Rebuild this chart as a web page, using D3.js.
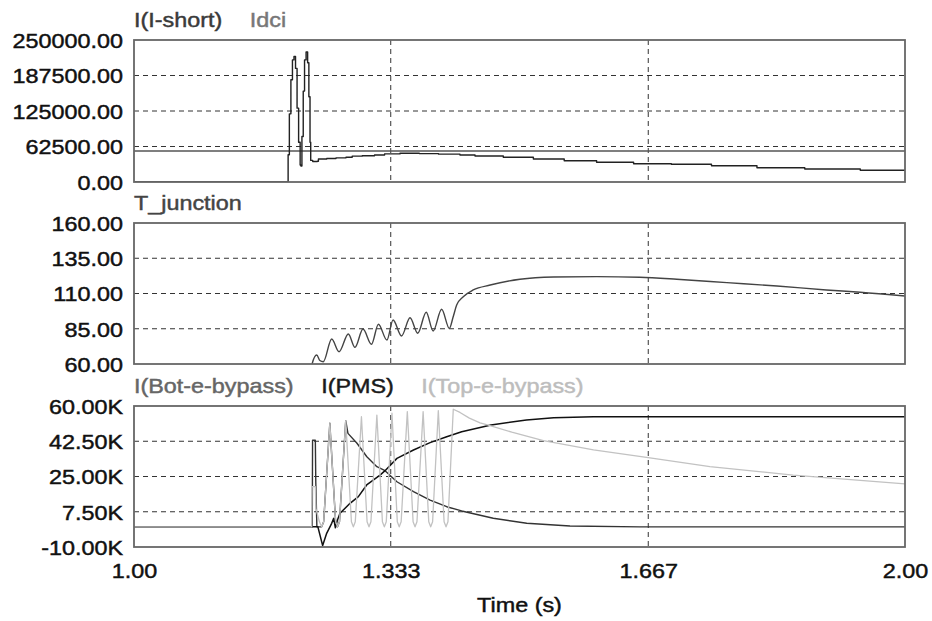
<!DOCTYPE html>
<html><head><meta charset="utf-8">
<script src="https://cdn.jsdelivr.net/npm/d3@7"></script>
<style>
html,body{margin:0;padding:0;background:#fff;}
svg{display:block;font-family:"Liberation Sans",Arial,sans-serif;}
</style></head><body>
<svg id="chart" width="932" height="621"></svg>
<script>
// ---------------- DATA ----------------
const xTickValues = [1.0, 1.333, 1.667, 2.0];
const xTickLabels = ["1.00", "1.333", "1.667", "2.00"];
const xTitle = "Time (s)";

// Panel 1
const p1TickValues = [0, 62500, 125000, 187500, 250000];
const p1TickLabels = ["0.00", "62500.00", "125000.00", "187500.00", "250000.00"];
const p1Names = ["I(I-short)", "Idci"];
const iShort = [
  [1.0,0],[1.1997,0],[1.1999,48000],[1.2015,120000],[1.2035,180000],[1.2055,215000],[1.2075,221000],
  [1.2095,200000],[1.2115,130000],[1.2135,70000],[1.2155,30000],[1.2165,28000],[1.2178,80000],
  [1.2195,160000],[1.2212,215000],[1.2232,229000],[1.2252,210000],[1.2268,150000],[1.2283,70000],
  [1.2292,38000],[1.2318,36000],[1.2378,36500],[1.2392,40500],[1.250,41500],[1.262,42500],[1.275,43500],
  [1.283,45500],[1.296,46300],[1.312,47500],[1.325,49500],[1.345,50500],[1.370,50000],[1.395,49000],
  [1.4228,47500],[1.4423,45800],[1.479,43500],[1.518,40500],[1.558,37500],[1.600,34700],[1.648,32000],
  [1.697,31200],[1.749,28700],[1.808,25200],[1.870,22900],[1.942,20600],[2.0,20600]
];
const idci = [[1.0,54500],[2.0,54500]];

// Panel 2
const p2TickValues = [60, 85, 110, 135, 160];
const p2TickLabels = ["60.00", "85.00", "110.00", "135.00", "160.00"];
const p2Names = ["T_junction"];
const tJunction = [
  [1.2290,55],[1.2310,60],[1.2370,66.4],[1.2410,62.5],[1.2455,61.6],[1.2564,77.7],[1.2660,68.7],
  [1.2780,81.3],[1.2866,71.8],[1.2970,84.8],[1.3080,74.0],[1.3170,88.2],[1.3280,77.0],[1.3360,91.2],
  [1.3470,79.9],[1.3580,92.8],[1.3680,81.8],[1.3790,96.7],[1.3880,83.4],[1.3990,98.8],[1.4090,85.3],
  [1.4140,93.5],[1.4185,101.8],[1.4270,107.7],[1.4400,112.5],[1.4620,116.0],[1.5006,120.1],[1.5440,121.7],
  [1.6000,122.0],[1.6560,121.5],[1.7040,120.1],[1.7690,117.7],[1.8340,115.3],[1.8980,112.5],
  [1.9420,110.9],[2.0,108.2]
];

// Panel 3
const p3TickValues = [-10000, 7500, 25000, 42500, 60000];
const p3TickLabels = ["-10.00K", "7.50K", "25.00K", "42.50K", "60.00K"];
const p3Names = ["I(Bot-e-bypass)", "I(PMS)", "I(Top-e-bypass)"];
const botBypass = [
  [1.0,0],[1.2312,0],[1.2316,43000],[1.2352,43000],[1.2358,22000],[1.2372,0],[1.2434,0],[1.2460,2500],
  [1.2540,51400],[1.2615,2500],[1.2640,0],[1.2665,2500],[1.2746,52700],[1.2775,46400],[1.2892,41500],
  [1.3020,34800],[1.3150,29900],[1.3256,27900],[1.3410,22400],[1.3625,17450],[1.3840,13300],
  [1.4056,10000],[1.4250,7900],[1.4575,5000],[1.4660,4250],[1.5094,1770],[1.5655,430],[1.656,0],[2.0,0]
];
const pms = [
  [1.0,0],[1.2385,0],[1.2447,-9300],[1.2499,-3200],[1.2564,1770],[1.2590,4200],[1.2612,-500],
  [1.2640,3500],[1.2672,6730],[1.2802,11700],[1.2910,15000],[1.3018,20800],[1.3191,25700],
  [1.3256,27900],[1.3410,34000],[1.3625,38150],[1.3840,41800],[1.4056,44750],[1.4250,47200],
  [1.4630,50570],[1.5090,53050],[1.5443,54200],[1.5958,54700],[2.0,54700]
];
const topBypass = [
  [1.0,0],[1.2305,0],[1.2310,20000],[1.2352,20000],[1.2360,9000],[1.2405,2500],[1.2434,0],[1.2460,2500],
  [1.2540,51400],[1.2615,2500],[1.2640,0],[1.2665,2500],
  [1.2746,52700],[1.2820,2500],[1.2845,0],[1.2870,2500],
  [1.2950,54700],[1.3023,2500],[1.3048,0],[1.3073,2500],
  [1.3150,55500],[1.3222,2500],[1.3247,0],[1.3272,2500],
  [1.3346,56400],[1.3415,2500],[1.3440,0],[1.3465,2500],
  [1.3545,57200],[1.3620,2500],[1.3645,0],[1.3670,2500],
  [1.3750,57200],[1.3823,2500],[1.3848,0],[1.3873,2500],
  [1.3947,57700],[1.4022,2500],[1.4047,0],[1.4072,2500],
  [1.4141,58400],[1.4228,56800],[1.4350,54000],[1.4488,51600],[1.4595,50500],[1.490,47000],
  [1.531,42800],[1.596,38200],[1.667,34400],[1.747,29900],[1.855,25700],[2.0,21300]
];

// ---------------- LAYOUT ----------------
const X0 = 134, X1 = 905;
const FS = 20.5, SX = 1.14, TSW = 0.45;
const svg = d3.select("#chart");
const x = d3.scaleLinear().domain([1, 2]).range([X0, X1]);

const panels = [
  { top: 40, bottom: 182, ticks: p1TickValues, labels: p1TickLabels, names: p1Names,
    nameColors: ["#3a3a3a", "#777"],
    series: [
      { data: idci, color: "#555", width: 1.5, curve: d3.curveLinear },
      { data: iShort, color: "#222", width: 1.4, curve: d3.curveStepAfter }
    ] },
  { top: 223, bottom: 364, ticks: p2TickValues, labels: p2TickLabels, names: p2Names,
    nameColors: ["#444"],
    series: [
      { data: tJunction, color: "#444", width: 1.4, curve: d3.curveMonotoneX }
    ] },
  { top: 406, bottom: 547, ticks: p3TickValues, labels: p3TickLabels, names: p3Names,
    nameColors: ["#666", "#1a1a1a", "#bdbdbd"],
    series: [
      { data: botBypass, color: "#333", width: 1.4, curve: d3.curveLinear },
      { data: pms, color: "#111", width: 1.5, curve: d3.curveLinear },
      { data: topBypass, color: "#c2c2c2", width: 1.3, curve: d3.curveLinear }
    ] }
];

function stretchText(sel, xPos) {
  sel.attr("transform", `scale(${SX},1)`).attr("x", xPos / SX);
}
function boldish(sel, color) {
  sel.attr("fill", color).attr("stroke", color).attr("stroke-width", TSW);
}

panels.forEach((p, i) => {
  const y = d3.scaleLinear().domain([p.ticks[0], p.ticks[p.ticks.length - 1]]).range([p.bottom, p.top]);
  const g = svg.append("g");
  const clipId = "clip" + i;
  svg.append("clipPath").attr("id", clipId).append("rect")
    .attr("x", X0).attr("y", p.top).attr("width", X1 - X0).attr("height", p.bottom - p.top);

  // gridlines
  const grid = g.append("g").attr("stroke", "#333").attr("stroke-width", 1).attr("stroke-dasharray", "5,4");
  grid.selectAll("line.h").data(p.ticks.slice(1, -1)).join("line")
    .attr("x1", X0).attr("x2", X1).attr("y1", d => y(d)).attr("y2", d => y(d));
  grid.selectAll("line.v").data(xTickValues.slice(1, -1)).join("line")
    .attr("x1", d => x(d)).attr("x2", d => x(d)).attr("y1", p.top).attr("y2", p.bottom);

  // series
  const sg = g.append("g").attr("clip-path", `url(#${clipId})`);
  p.series.forEach(s => {
    const line = d3.line().x(d => x(d[0])).y(d => y(d[1])).curve(s.curve);
    sg.append("path").attr("d", line(s.data)).attr("fill", "none")
      .attr("stroke", s.color).attr("stroke-width", s.width).attr("stroke-linejoin", "round");
  });

  // frame
  g.append("rect").attr("x", X0).attr("y", p.top).attr("width", X1 - X0).attr("height", p.bottom - p.top)
    .attr("fill", "none").attr("stroke", "#666").attr("stroke-width", 1.8);

  // y axis
  const ax = g.append("g").attr("transform", `translate(${X0},0)`)
    .call(d3.axisLeft(y).tickValues(p.ticks).tickFormat((d, k) => p.labels[k]).tickSize(0));
  ax.select(".domain").remove();
  ax.attr("font-family", null);
  ax.selectAll("text").attr("font-size", FS).call(boldish, "#111")
    .attr("dy", "0.36em").call(stretchText, -11);

  // titles / legend
  let tx = X0;
  p.names.forEach((nm, k) => {
    const t = g.append("text").text(nm).attr("font-size", FS).call(boldish, p.nameColors[k])
      .attr("y", p.top - 13).attr("transform", `scale(${SX},1)`).attr("x", tx / SX);
    tx += t.node().getComputedTextLength() * SX + 27.5;
  });

  // x axis on last panel
  if (i === panels.length - 1) {
    const xa = g.append("g").attr("transform", `translate(0,${p.bottom})`)
      .call(d3.axisBottom(x).tickValues(xTickValues).tickFormat((d, k) => xTickLabels[k]).tickSize(0).tickPadding(16));
    xa.select(".domain").remove();
    xa.attr("font-family", null);
    xa.selectAll("text").attr("font-size", FS).call(boldish, "#111").call(stretchText, 0);
    g.append("text").text(xTitle).attr("font-size", FS).call(boldish, "#111")
      .attr("text-anchor", "middle").attr("y", 612)
      .attr("transform", `scale(${SX},1)`).attr("x", ((X0 + X1) / 2) / SX);
  }
});
</script>
</body></html>
